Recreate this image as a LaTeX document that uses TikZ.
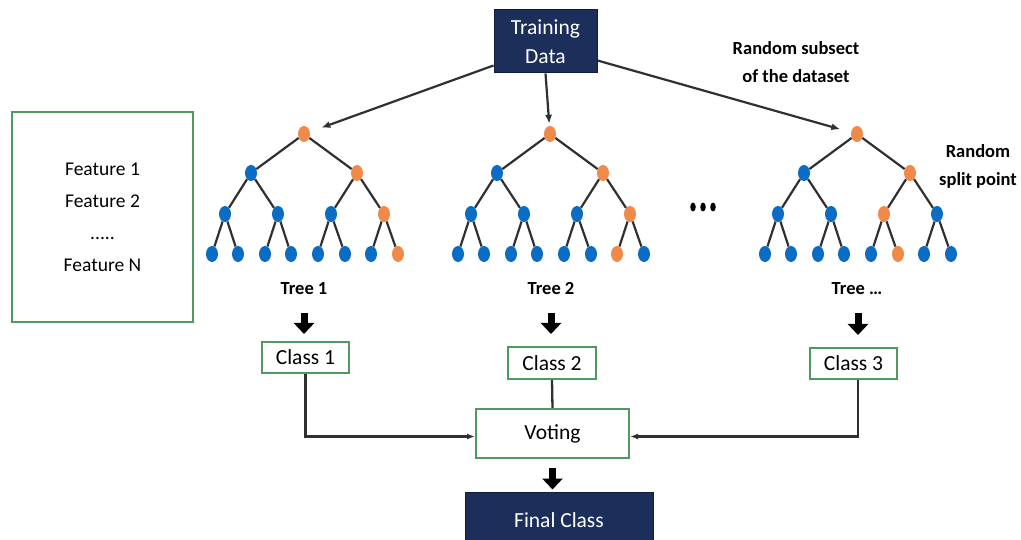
\documentclass[tikz,border=0pt]{standalone}
\usepackage{fontspec}
\setmainfont{Carlito}
\usetikzlibrary{arrows.meta,shapes.geometric,calc}
\definecolor{navy}{HTML}{1C2F5B}
\definecolor{navyedge}{HTML}{101C3A}
\definecolor{grn}{HTML}{4F9A60}
\definecolor{orn}{HTML}{EF8A4A}
\definecolor{blu}{HTML}{0B6CC4}
\definecolor{lin}{HTML}{303030}
\tikzset{
  treenode/.style={ellipse,draw=none,minimum width=12pt,minimum height=16pt,inner sep=0pt},
  treeedge/.style={draw=lin,line width=2.2pt},
  navybox/.style={draw=navyedge,line width=1pt,fill=navy,text=white,inner sep=0pt,align=center},
  greenbox/.style={draw=grn,line width=2pt,fill=white,inner sep=0pt,align=center},
  boxtext/.style={font=\fontsize{21.5}{29}\selectfont},
  lbl/.style={font=\bfseries\fontsize{18.5}{28}\selectfont,align=center},
  dataarrow/.style={draw=lin,line width=2.2pt,-{Latex[length=9pt,width=7pt]}},
  conn/.style={draw=lin,line width=2.3pt},
  connarrow/.style={conn,-{Latex[length=8pt,width=6pt]}},
  blockarrow/.style={draw=black,line width=7pt,-{Triangle[length=11pt,width=20pt]}},
}
\newcommand\mytree[4]{%
  \foreach \i/\dx/\yy in {1/0/134,2/-53/173,3/53/173,4/-79/214,5/-26/214,6/27/214,7/80/214,8/-92/254,9/-66/254,10/-39/254,11/-13/254,12/14/254,13/41/254,14/67/254,15/94/254}{%
    \ifnum\i=1 \def\cc{orn}\else\ifnum\i=3 \def\cc{orn}\else\ifnum\i=#3 \def\cc{orn}\else\ifnum\i=#4 \def\cc{orn}\else\def\cc{blu}\fi\fi\fi\fi
    \node[treenode,fill=\cc] (#1n\i) at (#2+\dx,\yy) {};
  }%
  \foreach \p/\c in {1/2,1/3,2/4,2/5,3/6,3/7,4/8,4/9,5/10,5/11,6/12,6/13,7/14,7/15}{%
    \draw[treeedge] (#1n\p) -- (#1n\c);
  }%
}
\begin{document}
\begin{tikzpicture}[x=1pt,y=-1pt]
\useasboundingbox (0,0) rectangle (1021,540);
% trees
\mytree{a}{304}{7}{15}
\mytree{b}{550}{7}{14}
\mytree{c}{857}{6}{13}
% dots
\foreach \k/\xx in {1/693,2/703,3/713}{\node[ellipse,fill=black,minimum width=5.5pt,minimum height=9pt,inner sep=0pt] (dot\k) at (\xx,207) {};}
% training data
\node[navybox,boxtext,minimum width=103pt,minimum height=63pt] (td) at (545.5,41.5) {Training\\Data};
\draw[dataarrow,shorten >=12pt] ([yshift=8pt]td.south west) -- (an1);
\draw[dataarrow,shorten >=2pt] (td.south) -- (bn1);
\draw[dataarrow,shorten >=11pt] ([yshift=13pt]td.south east) -- (cn1);
% labels
\node[lbl] (rs) at (796,62) {Random subsect\\of the dataset};
\node[lbl] (sp) at (978,166) {Random\\split point};
\node[lbl] (tl1) at (304,289) {Tree 1};
\node[lbl] (tl2) at (551,289) {Tree 2};
\node[lbl] (tl3) at (857,289) {Tree \ldots};
% features
\node[greenbox,minimum width=181pt,minimum height=210pt,font=\fontsize{19.5}{32}\selectfont] (feat) at (102.5,217) {Feature 1\\Feature 2\\.....\\Feature N};
% class boxes
\node[greenbox,boxtext,minimum width=87pt,minimum height=31pt] (c1) at (305.5,357.5) {Class 1};
\node[greenbox,boxtext,minimum width=88pt,minimum height=32pt] (c2) at (552,363) {Class 2};
\node[greenbox,boxtext,minimum width=87pt,minimum height=31pt] (c3) at (853.5,363.5) {Class 3};
\node[greenbox,boxtext,minimum width=153pt,minimum height=49pt] (vote) at (552.5,433.5) {Voting};
\node[navybox,boxtext,minimum width=188pt,minimum height=56pt] (final) at (559,520) {Final Class};
% block arrows
\draw[blockarrow,shorten <=14pt,shorten >=7pt] (tl1.south) -- (tl1.south |- c1.north);
\draw[blockarrow,shorten <=14pt,shorten >=12pt] (tl2.south) -- (tl2.south |- c2.north);
\draw[blockarrow,shorten <=14pt,shorten >=12pt] ([xshift=1pt]tl3.south) -- ([xshift=1pt]tl3.south |- c3.north);
\draw[blockarrow,shorten <=9pt,shorten >=2pt] (vote.south) -- (vote.south |- final.north);
% connectors
\draw[connarrow] (c1.south) |- ([yshift=-3pt]vote.west);
\draw[conn] (c2.south) -- (vote.north);
\draw[connarrow] ([xshift=4.5pt]c3.south) |- ([yshift=-3pt]vote.east);
\end{tikzpicture}
\end{document}
